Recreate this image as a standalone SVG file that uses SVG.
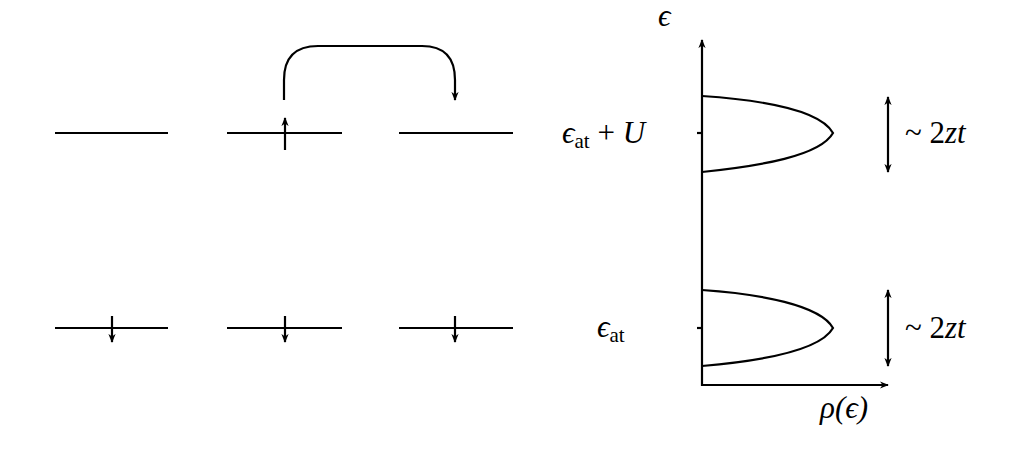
<svg xmlns="http://www.w3.org/2000/svg" width="1033" height="461" viewBox="0 0 1033 461">
<defs>
<marker id="ah" viewBox="0 0 10 10" refX="9" refY="5" markerWidth="9" markerHeight="9" markerUnits="userSpaceOnUse" orient="auto-start-reverse"><path d="M0,1 L10,5 L0,9 L3,5 Z" fill="#000"/></marker>
</defs>
<style>
.l{stroke:#000;stroke-width:2.2;fill:none}
.t{font-family:"Liberation Serif",serif;font-size:31px;fill:#000}
</style>
<rect width="1033" height="461" fill="#fff"/>
<g id="levels">
<line class="l" x1="55" y1="133" x2="168" y2="133"/>
<line class="l" x1="227" y1="133" x2="342" y2="133"/>
<line class="l" x1="399" y1="133" x2="513" y2="133"/>
<line class="l" x1="55" y1="328" x2="168" y2="328"/>
<line class="l" x1="227" y1="328" x2="342" y2="328"/>
<line class="l" x1="399" y1="328" x2="513" y2="328"/>
</g>
<g id="spins">
<line class="l" x1="285" y1="150" x2="285" y2="118" marker-end="url(#ah)"/>
<line class="l" x1="112" y1="316" x2="112" y2="342" marker-end="url(#ah)"/>
<line class="l" x1="285" y1="316" x2="285" y2="342" marker-end="url(#ah)"/>
<line class="l" x1="455" y1="316" x2="455" y2="342" marker-end="url(#ah)"/>
</g>
<g id="connectors">
<path class="l" d="M284,100 V80 Q284,46 318,46 H422 Q455,46 455,80 V100" marker-end="url(#ah)"/>
</g>
<g id="dos">
<line class="l" x1="702" y1="386" x2="702" y2="40" marker-end="url(#ah)"/>
<line class="l" x1="701" y1="385" x2="888" y2="385" marker-end="url(#ah)"/>
<line class="l" x1="697" y1="133" x2="702" y2="133"/>
<line class="l" x1="697" y1="328" x2="702" y2="328"/>
<path class="l" stroke-width="3" d="M702,96 C760,100 820,110 833,133 C820,156 760,166 702,172"/>
<path class="l" stroke-width="3" d="M702,290 C760,294 820,305 833,328 C820,351 760,361 702,366"/>
<line class="l" x1="888" y1="134" x2="888" y2="97" marker-end="url(#ah)"/>
<line class="l" x1="888" y1="134" x2="888" y2="172" marker-end="url(#ah)"/>
<line class="l" x1="888" y1="328" x2="888" y2="290" marker-end="url(#ah)"/>
<line class="l" x1="888" y1="328" x2="888" y2="366" marker-end="url(#ah)"/>
</g>
<g id="labels">
<text class="t" x="658" y="26" font-style="italic">ϵ</text>
<text class="t" x="562" y="143"><tspan font-style="italic">ϵ</tspan><tspan font-size="21" dy="5">at</tspan><tspan dy="-5"> + </tspan><tspan font-style="italic">U</tspan></text>
<text class="t" x="597" y="337"><tspan font-style="italic">ϵ</tspan><tspan font-size="21" dy="5">at</tspan></text>
<text class="t" x="905" y="143">~ 2<tspan font-style="italic">zt</tspan></text>
<text class="t" x="905" y="338">~ 2<tspan font-style="italic">zt</tspan></text>
<text class="t" x="820" y="418" font-style="italic">ρ(ϵ)</text>
</g>
</svg>
